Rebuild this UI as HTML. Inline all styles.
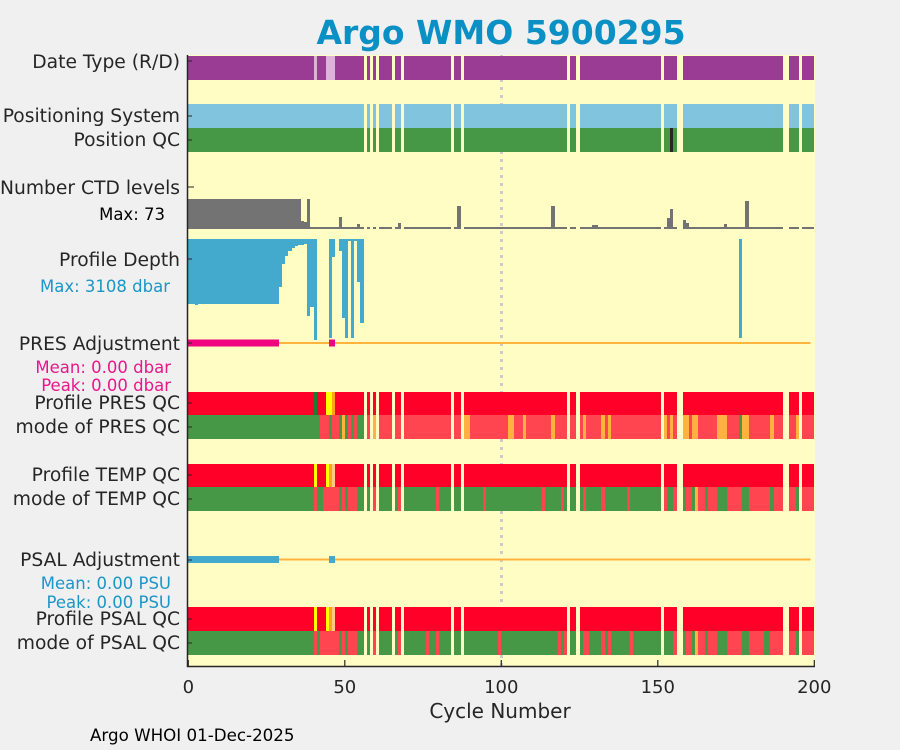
<!DOCTYPE html>
<html><head><meta charset="utf-8">
<style>
html,body{margin:0;padding:0;background:#f0f0f0;}
svg{display:block;font-family:"DejaVu Sans","Liberation Sans",sans-serif;}
</style></head>
<body>
<svg id="chart" width="900" height="750" viewBox="0 0 900 750">
<rect x="0" y="0" width="900" height="750" fill="#f0f0f0"/>
<text x="501" y="44" text-anchor="middle" font-size="33" font-weight="bold" fill="#0a90c4">Argo WMO 5900295</text>
<rect x="188" y="55" width="627" height="611" fill="#fffdc4"/>
<g id="marks" shape-rendering="crispEdges"></g>
<g id="axes" fill="#262626" font-size="18.7" text-anchor="end">
<text x="180" y="68">Date Type (R/D)</text>
<text x="180" y="122">Positioning System</text>
<text x="180" y="146">Position QC</text>
<text x="180" y="194">Number CTD levels</text>
<text x="165" y="220" font-size="16.5" fill="#000">Max: 73</text>
<text x="180" y="266">Profile Depth</text>
<text x="170" y="292" font-size="16.5" fill="#1a96c8">Max: 3108 dbar</text>
<text x="180" y="350">PRES Adjustment</text>
<text x="171" y="373" font-size="16.5" fill="#e8178a">Mean: 0.00 dbar</text>
<text x="171" y="391" font-size="16.5" fill="#e8178a">Peak: 0.00 dbar</text>
<text x="180" y="409">Profile PRES QC</text>
<text x="180" y="433">mode of PRES QC</text>
<text x="180" y="481">Profile TEMP QC</text>
<text x="180" y="505">mode of TEMP QC</text>
<text x="180" y="566">PSAL Adjustment</text>
<text x="171" y="589" font-size="16.5" fill="#1a96c8">Mean: 0.00 PSU</text>
<text x="171" y="608" font-size="16.5" fill="#1a96c8">Peak: 0.00 PSU</text>
<text x="180" y="625">Profile PSAL QC</text>
<text x="180" y="649">mode of PSAL QC</text>
<text x="500" y="718" text-anchor="middle" font-size="20">Cycle Number</text>
<text x="90" y="741" text-anchor="start" font-size="16.7" fill="#000">Argo WHOI 01-Dec-2025</text>
</g>
</svg>
<script>
const xTicks = [0, 50, 100, 150, 200];
const missing = [57,59,61,66,69,85,88,122,125,152,157,158,191,192,196];
const dateRuns = [[41,41,'D'],[45,47,'D']];
const posQCRuns = [[155,155,'K']];
const presProfRuns = [[41,41,'A'],[45,46,'Y'],[47,47,'O']];
const tempProfRuns = [[41,41,'Y'],[45,45,'Y'],[46,46,'O'],[47,47,'P']];
const psalProfRuns = [[41,41,'Y'],[45,45,'Y'],[46,46,'O'],[47,47,'P']];
const presModeRuns = [[1,42,'G'],[46,46,'G'],[49,49,'G'],[50,50,'O'],[51,51,'G'],[53,53,'G'],[55,56,'G'],[60,60,'O'],[89,90,'O'],[103,104,'O'],[108,108,'O'],[117,117,'O'],[127,127,'O'],[133,133,'O'],[135,135,'O'],[153,153,'O'],[155,155,'O'],[159,160,'O'],[162,163,'O'],[170,172,'O'],[177,177,'G'],[178,179,'O'],[187,187,'O'],[195,195,'O']];
const tempModeRuns = [[1,40,'G'],[42,43,'G'],[49,49,'G'],[51,51,'G'],[55,56,'G'],[58,58,'G'],[62,65,'G'],[67,67,'G'],[70,79,'G'],[81,84,'G'],[86,87,'G'],[89,94,'G'],[96,113,'G'],[115,119,'G'],[121,121,'G'],[123,124,'G'],[126,126,'G'],[128,132,'G'],[134,140,'G'],[142,151,'G'],[154,155,'G'],[159,159,'G'],[162,162,'G'],[163,163,'O'],[166,166,'G'],[170,172,'G'],[178,179,'G'],[187,187,'G'],[195,195,'G']];
const psalModeRuns = [[1,40,'G'],[42,42,'G'],[49,49,'G'],[51,51,'G'],[55,56,'G'],[58,58,'G'],[62,65,'G'],[67,67,'G'],[70,76,'G'],[78,79,'G'],[81,84,'G'],[86,87,'G'],[89,99,'G'],[101,118,'G'],[120,120,'G'],[123,124,'G'],[126,126,'G'],[129,132,'G'],[134,134,'G'],[136,141,'G'],[143,151,'G'],[153,155,'G'],[159,159,'G'],[162,162,'G'],[163,163,'O'],[166,166,'G'],[170,172,'G'],[178,179,'G'],[185,186,'G'],[195,195,'G']];
const ctdMax = 73;
const ctdDefault = 2;
const ctdCycles = [37,38,39,46,49,55,63,68,83,87,116,117,130,131,140,145,154,155,159,160,172,178,179,188];
const ctdValues = [19,17,73,3,28,11,5,14,5,55,6,55,9,9,4,4,26,48,21,14,11,5,67,5];
const ctdFullUntil = 36;
const depthMax = 3108;
const depthCycles = [1,2,3,4,5,6,7,8,9,10,11,12,13,14,15,16,17,18,19,20,21,22,23,24,25,26,27,28,29,30,31,32,33,34,35,36,37,38,39,40,41,46,47,49,50,51,52,53,54,55,56,177];
const depthValues = [2000,2000,2030,2000,2000,2000,2000,2000,2000,2000,2000,2000,2000,2000,2000,2000,2000,2000,2000,2000,2000,2000,2000,2000,2000,2000,2000,2000,2000,1467,770,520,370,280,215,185,185,155,2370,2090,3108,3040,560,370,2430,3040,60,3040,60,1314,2585,3040];
const presAdjCycles = [1,2,3,4,5,6,7,8,9,10,11,12,13,14,15,16,17,18,19,20,21,22,23,24,25,26,27,28,29,46,47];
const psalAdjCycles = [1,2,3,4,5,6,7,8,9,10,11,12,13,14,15,16,17,18,19,20,21,22,23,24,25,26,27,28,29,46,47];
const lastCycle = 200;

const NS = 'http://www.w3.org/2000/svg';
const x = u => 188.3 + 3.13 * u;
const marks = document.getElementById('marks');
const axes = document.getElementById('axes');
const colors = {R:'#9a3b94',D:'#ddb3d9',L:'#80c4de',G:'#469846',K:'#262626',F:'#ff0029',A:'#1e7a34',Y:'#ffff00',O:'#ffa31a',P:'#ffc78a',X:'#ff4550',M:'#ffb33e'};
function el(tag, attrs, parent){const e=document.createElementNS(NS,tag);for(const k in attrs)e.setAttribute(k,attrs[k]);(parent||marks).appendChild(e);return e;}

const dl = el('line',{x1:x(100),x2:x(100),y1:55,y2:666,stroke:'#cccccc','stroke-width':3,'stroke-dasharray':'3,5'});



function codeAt(runs, c, def){for(const r of runs){if(c>=r[0]&&c<=r[1])return r[2];}return def;}
function drawRow(name, runs, def, y, h, modeOrange){
  let start = null, curCol = null;
  const flush = (endC)=>{
    if(start===null) return;
    const r = el('rect',{x:Math.round(x(start-1)),y:y,width:Math.round(x(endC))-Math.round(x(start-1)),height:h,fill:curCol});
    
    
    start = null;
  };
  for(let c=1;c<=lastCycle;c++){
    if(missing.includes(c)){ flush(c-1); continue; }
    let code = codeAt(runs,c,def);
    let col = colors[code];
    if(modeOrange && code==='O') col = colors.M;
    if(start!==null && col!==curCol) flush(c-1);
    if(start===null){ start = c; curCol = col; }
  }
  flush(lastCycle);
}
drawRow('date-type', dateRuns, 'R', 56, 24);
drawRow('positioning-system', [], 'L', 104, 24);
drawRow('position-qc', posQCRuns, 'G', 128, 24);
drawRow('profile-pres-qc', presProfRuns, 'F', 392, 23);
drawRow('mode-pres-qc', presModeRuns, 'X', 415, 24, true);
drawRow('profile-temp-qc', tempProfRuns, 'F', 464, 23);
drawRow('mode-temp-qc', tempModeRuns, 'X', 487, 24, true);
drawRow('profile-psal-qc', psalProfRuns, 'F', 607, 24);
drawRow('mode-psal-qc', psalModeRuns, 'X', 631, 24, true);

for(let c=1;c<=lastCycle;c++){
  if(missing.includes(c))continue;
  let v = c<=ctdFullUntil ? ctdMax : ctdDefault;
  const i = ctdCycles.indexOf(c); if(i>=0) v = ctdValues[i];
  const h = Math.max(2, Math.round(v/ctdMax*30));
  const r = el('rect',{x:Math.round(x(c-1)),y:229-h,width:Math.round(x(c))-Math.round(x(c-1)),height:h,fill:'#737373'});
  
  
}
depthCycles.forEach((c,i)=>{
  const h = Math.round(depthValues[i]/depthMax*101);
  const r = el('rect',{x:Math.round(x(c-1)),y:239,width:Math.round(x(c))-Math.round(x(c-1)),height:h,fill:'#43a9cd'});
  
  
});
function adjRow(name, cycles, y, col){
  const ln = el('line',{x1:x(28.7),x2:x(198.8),y1:y,y2:y,stroke:'#ffb43e','stroke-width':2});
  
  
  cycles.forEach(c=>{
    const r = el('rect',{x:Math.round(x(c-1)),y:y-3.5,width:Math.round(x(c))-Math.round(x(c-1)),height:7,fill:col});
    
    
  });
}
adjRow('pres-adjustment', presAdjCycles, 343, '#f0047f');
adjRow('psal-adjustment', psalAdjCycles, 559.5, '#43a9cd');

const al = el('path',{d:'M187.5 55 V666.5 H815',fill:'none',stroke:'#262626','stroke-width':1.5},axes);


[61,116,140,187,259,343,403,427,475,499,560,619,643].forEach(y=>{
  const t = el('line',{x1:187.5,x2:y===187?194:192,y1:y,y2:y,stroke:'#262626','stroke-width':1},axes);
  
  
});
xTicks.forEach(v=>{
  const t = el('line',{x1:x(v),x2:x(v),y1:666,y2:660,stroke:'#262626','stroke-width':1.2},axes);
  
  
  const tx = el('text',{x:x(v),y:693,'text-anchor':'middle','font-size':18},axes);
  tx.textContent = v;
  
  
});
</script>
</body></html>
